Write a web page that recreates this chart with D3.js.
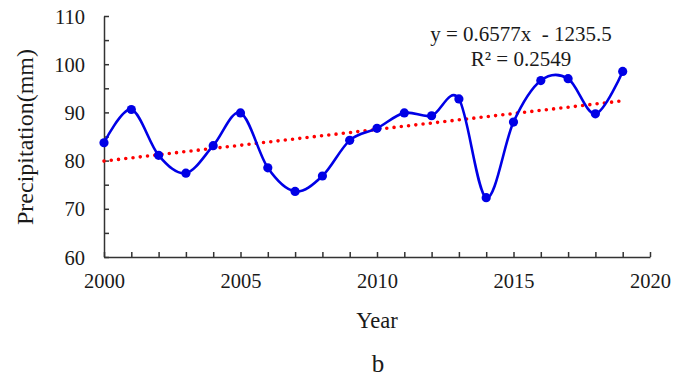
<!DOCTYPE html>
<html><head><meta charset="utf-8">
<script src="https://cdn.jsdelivr.net/npm/d3@7"></script>
<style>body{margin:0;background:#fff}svg{display:block}text{font-family:"Liberation Serif","Times New Roman",serif;fill:#1a1a1a}</style>
</head><body>
<script>
const years = [2000,2001,2002,2003,2004,2005,2006,2007,2008,2009,2010,2011,2012,2013,2014,2015,2016,2017,2018,2019];
const precipitation = [83.7,90.6,81.1,77.4,83.1,89.9,78.5,73.6,76.8,84.2,86.7,89.9,89.3,92.8,72.3,88.0,96.6,97.0,89.7,98.5];
const trendSlope = 0.6577, trendIntercept = -1235.5;
const xTickLabels = [2000,2005,2010,2015,2020];
const yTickLabels = [60,70,80,90,100,110];
const equationText = "y = 0.6577x  - 1235.5";
const r2Text = "R² = 0.2549";

const W = 682, H = 376;
const svg = d3.select("body").append("svg").attr("width", W).attr("height", H);
const x = d3.scaleLinear().domain([2000, 2020]).range([104, 650]);
const y = d3.scaleLinear().domain([60, 110]).range([257, 16]);
const fs = 20.5;

// axes
const xAxis = d3.axisBottom(x).tickValues(d3.range(2000, 2021, 1)).tickSizeInner(-5).tickSizeOuter(0)
  .tickFormat(d => xTickLabels.includes(d) ? d : "");
const gx = svg.append("g").attr("transform", `translate(0,${y(60)})`).call(xAxis);
const yAxis = d3.axisLeft(y).tickValues(d3.range(60, 111, 5)).tickSizeInner(-5).tickSizeOuter(0)
  .tickFormat(d => yTickLabels.includes(d) ? d : "");
const gy = svg.append("g").attr("transform", `translate(${x(2000)},0)`).call(yAxis);
[gx, gy].forEach(g => {
  g.select(".domain").attr("stroke", "#333").attr("stroke-width", 1.5);
  g.selectAll(".tick line").attr("stroke", "#333").attr("stroke-width", 1.5);
  g.selectAll(".tick text").attr("font-family", "Liberation Serif").attr("font-size", fs).attr("fill", "#1a1a1a");
});
gx.selectAll(".tick text").attr("y", 16).attr("dy", "0.71em");
gy.selectAll(".tick text").attr("x", -19).attr("dy", "0.35em");

// trend line
svg.append("line")
  .attr("x1", x(years[0])).attr("y1", y(trendSlope * years[0] + trendIntercept))
  .attr("x2", x(years[years.length - 1])).attr("y2", y(trendSlope * years[years.length - 1] + trendIntercept))
  .attr("stroke", "#ff0000").attr("stroke-width", 3.6).attr("stroke-linecap", "round")
  .attr("stroke-dasharray", "0 7.3");

// smoothed data line
const line = d3.line().x((d, i) => x(years[i])).y(d => y(d)).curve(d3.curveCardinal.tension(0));
svg.append("path").datum(precipitation).attr("d", line)
  .attr("fill", "none").attr("stroke", "#0000e6").attr("stroke-width", 2.6);
svg.selectAll("circle.pt").data(precipitation).enter().append("circle")
  .attr("class", "pt").attr("cx", (d, i) => x(years[i])).attr("cy", d => y(d)).attr("r", 4.6)
  .attr("fill", "#0000e6");

// labels
svg.append("text").attr("x", 521).attr("y", 41).attr("text-anchor", "middle").attr("font-size", 21)
  .style("white-space", "pre").text(equationText);
svg.append("text").attr("x", 521).attr("y", 66).attr("text-anchor", "middle").attr("font-size", 21).text(r2Text);
svg.append("text").attr("transform", "translate(33,137) rotate(-90)").attr("text-anchor", "middle").attr("font-size", 24).text("Precipitation(mm)");
svg.append("text").attr("x", 377).attr("y", 328).attr("text-anchor", "middle").attr("font-size", 22.5).text("Year");
svg.append("text").attr("x", 378).attr("y", 372).attr("text-anchor", "middle").attr("font-size", 25).text("b");
</script>
</body></html>
